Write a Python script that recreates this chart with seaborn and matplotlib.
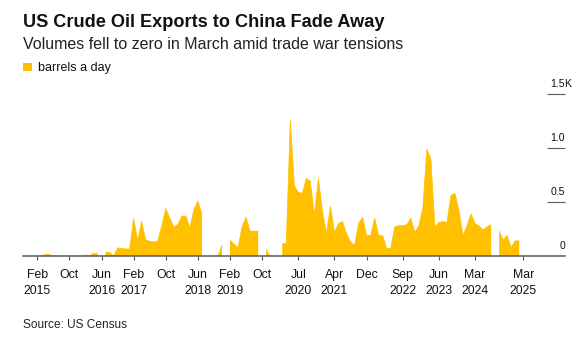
import numpy as np
import pandas as pd
import matplotlib
matplotlib.use("Agg")
import matplotlib.pyplot as plt
import seaborn as sns
from matplotlib.patches import Rectangle

# ---------------- data (thousand barrels a day, monthly from Feb 2015) ----------------
start_month = "2015-02"
nan = np.nan
barrels_k = [
    0, 0, 0.015, 0.015, 0, 0, 0, 0, 0, 0, 0, 0,              # Feb 2015 - Jan 2016
    0.01, 0, 0.025, 0.02, nan, 0.035, 0.035, 0, 0.075, 0.07,  # Feb 2016 - Nov 2016
    0.065, 0.065,                                             # Dec 2016 - Jan 2017
    0.35, 0.145, 0.32, 0.15, 0.135, 0.13, 0.14, 0.28, 0.44,   # Feb 2017 - Oct 2017
    0.35, 0.27, 0.29,                                         # Nov 2017 - Jan 2018
    0.37, 0.37, 0.26, 0.43, 0.51, 0.39, nan, nan, nan, 0,     # Feb 2018 - Nov 2018
    0.10, nan,                                                # Dec 2018 - Jan 2019
    0.145, 0.11, 0.077, 0.27, 0.36, 0.23, 0.23, 0.23, nan,    # Feb 2019 - Oct 2019
    0.06, 0, nan,                                             # Nov 2019 - Jan 2020
    nan, 0.115, 0.115, 1.26, 0.65, 0.59, 0.58, 0.72, 0.69,    # Feb 2020 - Oct 2020
    0.38, 0.72, 0.42,                                         # Nov 2020 - Jan 2021
    0.21, 0.46, 0.22, 0.30, 0.32, 0.21, 0.13, 0.10, 0.30,     # Feb 2021 - Oct 2021
    0.36, 0.19, 0.19,                                         # Nov 2021 - Jan 2022
    0.35, 0.19, 0.19, 0.07, 0.07, 0.27, 0.28, 0.28, 0.29,     # Feb 2022 - Oct 2022
    0.35, 0.22, 0.28,                                         # Nov 2022 - Jan 2023
    0.44, 0.99, 0.90, 0.27, 0.31, 0.32, 0.31, 0.56, 0.58,     # Feb 2023 - Oct 2023
    0.42, 0.19, 0.28,                                         # Nov 2023 - Jan 2024
    0.39, 0.30, 0.28, 0.24, 0.27, 0.29, nan, 0.23, 0.15,      # Feb 2024 - Oct 2024
    0.19, 0.08, 0.14,                                         # Nov 2024 - Jan 2025
    0.14,                                                     # Feb 2025
]

tick_months = ["2015-02", "2015-10", "2016-06", "2017-02", "2017-10", "2018-06",
               "2019-02", "2019-10", "2020-07", "2021-04", "2021-12", "2022-09",
               "2023-06", "2024-03", "2025-03"]
tick_labels = ["Feb\n2015", "Oct", "Jun\n2016", "Feb\n2017", "Oct", "Jun\n2018",
               "Feb\n2019", "Oct", "Jul\n2020", "Apr\n2021", "Dec", "Sep\n2022",
               "Jun\n2023", "Mar\n2024", "Mar\n2025"]

y_ticks = [0, 0.5, 1.0, 1.5]
y_tick_labels = ["0", "0.5", "1.0", "1.5"]

title = "US Crude Oil Exports to China Fade Away"
subtitle = "Volumes fell to zero in March amid trade war tensions"
legend_label = "barrels a day"
source = "Source: US Census"

# ---------------- style ----------------
YEL = "#FFC000"
AXC = "#5a5a5a"
TXT = "#111111"

sns.set_theme(style="white")
plt.rcParams['font.family'] = ['Liberation Sans', 'DejaVu Sans']

W, H = 582, 339
fig = plt.figure(figsize=(W / 100, H / 100), dpi=100)
ax = fig.add_axes([22.7 / W, 83 / H, (565 - 22.7) / W, 162 / H])

p0 = pd.Period(start_month, freq="M")
df = pd.DataFrame({"m": np.arange(len(barrels_k)), "v": barrels_k})
df["seg"] = df["v"].isna().cumsum()
valid = df.dropna()

ax.fill_between(df["m"], df["v"], 0, color=YEL, lw=0)
sns.lineplot(data=valid, x="m", y="v", units="seg", estimator=None,
             color=YEL, lw=0.5, ax=ax, legend=False)

tick_pos = [(pd.Period(t, freq="M") - p0).n for t in tick_months]
ax.set_xticks(tick_pos)
ax.set_xticklabels(tick_labels, fontsize=8.8, color=TXT, linespacing=1.42)
ax.set_xlim(-3.63, 131.4)
ax.set_ylim(0, 1.5)
ax.set_xlabel("")
ax.set_ylabel("")
ax.set_yticks([])

for s in ["top", "right", "left"]:
    ax.spines[s].set_visible(False)
ax.spines["bottom"].set_color(AXC)
ax.spines["bottom"].set_linewidth(1.1)
ax.tick_params(axis="x", bottom=True, length=3.0, width=0.8, color=AXC, pad=6.5)

ytr = ax.get_yaxis_transform()
for v, lab in zip(y_ticks, y_tick_labels):
    if v > 0:
        ax.plot([0.966, 1.0], [v, v], transform=ytr, color=AXC, lw=0.8,
                clip_on=False, solid_capstyle="butt")
    ax.annotate(lab, xy=(1.0, v), xycoords=ytr, xytext=(0, 5),
                textcoords="offset points", ha="right", va="baseline",
                fontsize=7.6, color=TXT, annotation_clip=False)
ax.annotate("K", xy=(1.0, 1.5), xycoords=ytr, xytext=(-0.3, 5),
            textcoords="offset points", ha="left", va="baseline",
            fontsize=7.6, color=TXT, annotation_clip=False)

# ---------------- texts ----------------
fig.text(23 / W, 1 - 26.7 / H, title, fontsize=13.1, fontweight="bold",
         color=TXT, ha="left", va="baseline")
fig.text(23 / W, 1 - 49.3 / H, subtitle, fontsize=11.5, color="#222222",
         ha="left", va="baseline")
fig.patches.append(Rectangle((23.3 / W, 1 - 71 / H), 8.4 / W, 7.7 / H,
                             transform=fig.transFigure, color=YEL, lw=0))
fig.text(37.7 / W, 1 - 71.5 / H, legend_label, fontsize=9, color=TXT,
         ha="left", va="baseline")
fig.text(23.3 / W, 1 - 327.7 / H, source, fontsize=8.6, color="#222222",
         ha="left", va="baseline")

fig.savefig("out.png", dpi=100)
